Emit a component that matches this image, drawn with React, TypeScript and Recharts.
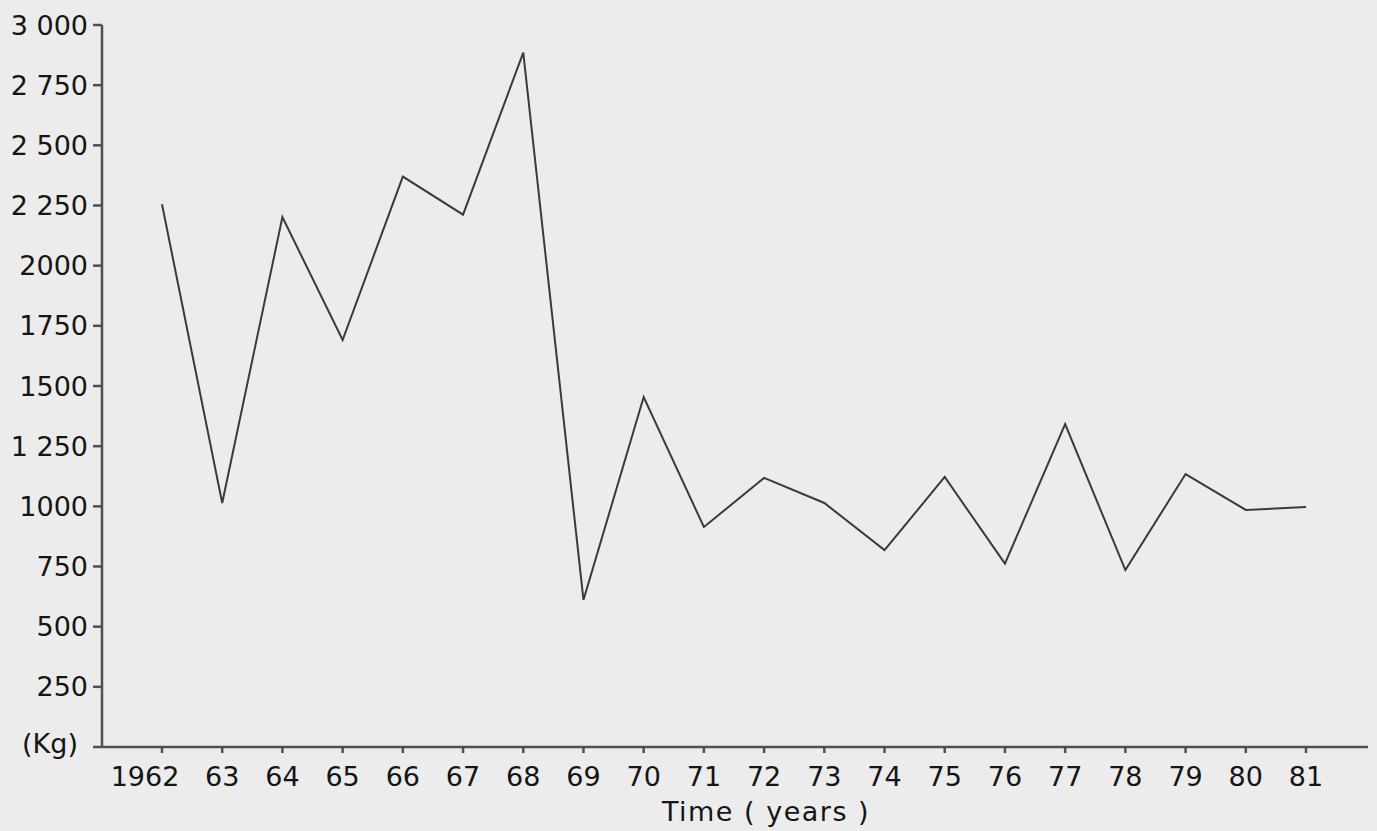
import { CartesianGrid, Line, LineChart, XAxis, YAxis } from "recharts";

const years = ["1962", "63", "64", "65", "66", "67", "68", "69", "70", "71", "72", "73", "74", "75", "76", "77", "78", "79", "80", "81"];
const catch_kg = [2255, 1014, 2202, 1691, 2370, 2212, 2885, 611, 1454, 914, 1118, 1014, 818, 1122, 762, 1342, 735, 1134, 985, 997];

const yTicks = [0, 250, 500, 750, 1000, 1250, 1500, 1750, 2000, 2250, 2500, 2750, 3000];
const yLabels = ["(Kg)", "250", "500", "750", "1000", "1 250", "1500", "1750", "2000", "2 250", "2 500", "2 750", "3 000"];

const data = years.map((year, i) => ({ year, value: catch_kg[i] }));

const font = "'DejaVu Sans', sans-serif";
const ink = "#151515";
const axisColor = "#505050";

function renderYearTick(props: { x?: number; y?: number; payload?: { value?: string }; index?: number }) {
  const { x = 0, y = 0, payload, index } = props;
  // the first label hangs left so that "62" sits under its tick
  const dx = index === 0 ? -17 : 0;
  return (
    <text x={x + dx} y={y} dy="0.71em" textAnchor="middle" fill={ink} fontFamily={font} fontSize={27}>
      {payload?.value}
    </text>
  );
}

function renderWeightTick(props: { x?: number; y?: number; payload?: { value?: number } }) {
  const { x = 0, y = 0, payload } = props;
  const v = payload?.value ?? 0;
  const isUnit = v === 0;
  return (
    <text
      x={x - (isUnit ? 10 : 0)}
      y={y - (isUnit ? 4 : 0)}
      dy="0.355em"
      textAnchor="end"
      fill={ink}
      fontFamily={font}
      fontSize={27}
    >
      {yLabels[yTicks.indexOf(v)] ?? String(v)}
    </text>
  );
}

export default function App() {
  return (
    <div style={{ position: "absolute", left: 0, top: 0, width: 1377, height: 831, background: "#ececec" }}>
      <LineChart width={1377} height={831} data={data} margin={{ top: 25, right: 9, bottom: 0, left: 0 }}>
        <CartesianGrid stroke="none" />
        <XAxis
          dataKey="year"
          height={84}
          padding={{ left: 60, right: 62 }}
          interval={0}
          stroke={axisColor}
          strokeWidth={2.5}
          tickSize={6}
          tickMargin={14}
          tick={renderYearTick}
          label={{
            value: "Time ( years )",
            position: "insideBottom",
            offset: 10,
            dx: 31,
            fill: ink,
            fontFamily: font,
            fontSize: 27,
            letterSpacing: 1.5,
          }}
        />
        <YAxis
          width={102}
          domain={[0, 3000]}
          ticks={yTicks}
          interval={0}
          stroke={axisColor}
          strokeWidth={2.5}
          tickSize={9}
          tickMargin={5}
          tick={renderWeightTick}
        />
        <Line
          dataKey="value"
          type="linear"
          stroke="#3a3a3a"
          strokeWidth={2}
          dot={false}
          activeDot={false}
          isAnimationActive={false}
        />
      </LineChart>
    </div>
  );
}
